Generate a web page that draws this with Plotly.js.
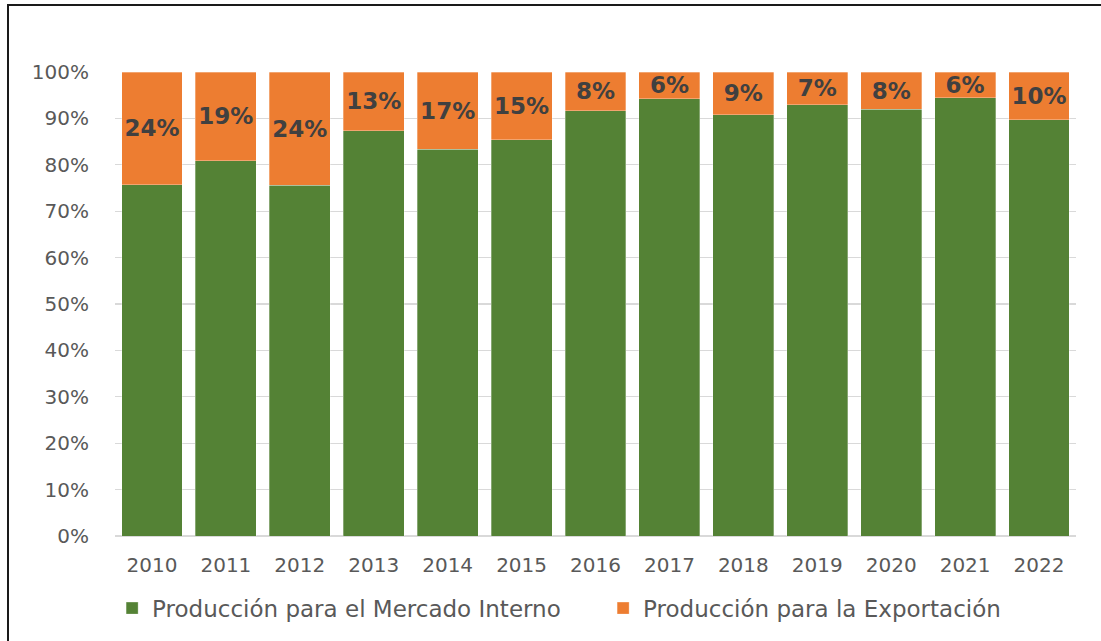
<!DOCTYPE html>
<html>
<head>
<meta charset="utf-8">
<script src="https://cdn.plot.ly/plotly-3.0.1.min.js"></script>
<style>
  html, body { margin: 0; padding: 0; background: #fff; }
  #wrap { position: relative; width: 1101px; height: 641px; overflow: hidden; }
  #chart { position: absolute; left: 0; top: 0; width: 1101px; height: 641px; }
  #frame { position: absolute; left: 7px; top: 4px; width: 1200px; height: 800px;
           border-left: 2px solid #1a1a1a; border-top: 2px solid #1a1a1a; pointer-events: none; }
</style>
</head>
<body>
<div id="wrap">
  <div id="chart"></div>
  <div id="frame"></div>
</div>
<script>
const years = ['2010','2011','2012','2013','2014','2015','2016','2017','2018','2019','2020','2021','2022'];
const domestic = [75.7, 80.9, 75.6, 87.3, 83.4, 85.4, 91.6, 94.2, 90.8, 92.9, 92.0, 94.4, 89.7];
const exportShare = [24.3, 19.1, 24.4, 12.7, 16.6, 14.6, 8.4, 5.8, 9.2, 7.1, 8.0, 5.6, 10.3];
const seriesNames = ['Producción para el Mercado Interno', 'Producción para la Exportación'];

const FONT = 'DejaVu Sans, Verdana, sans-serif';

const traces = [
  {
    type: 'bar', name: seriesNames[0], x: years, y: domestic,
    marker: { color: '#548235', line: { color: 'rgba(255,255,255,0.5)', width: 0.6 } },
    hoverinfo: 'skip'
  },
  {
    type: 'bar', name: seriesNames[1], x: years, y: exportShare,
    marker: { color: '#ED7D31', line: { color: 'rgba(255,255,255,0.5)', width: 0.6 } },
    texttemplate: '%{y:.0f}%', textposition: 'inside', insidetextanchor: 'middle',
    textangle: 0, constraintext: 'none',
    textfont: { family: FONT, size: 23, color: '#404040', weight: 'bold' },
    hoverinfo: 'skip'
  }
];

const layout = {
  width: 1101, height: 641,
  margin: { l: 115, r: 25, t: 72, b: 104 },
  paper_bgcolor: '#ffffff', plot_bgcolor: '#ffffff',
  barmode: 'stack', bargap: 0.176,
  showlegend: true,
  font: { family: FONT, color: '#595959', size: 20 },
  xaxis: {
    type: 'category', showgrid: false, zeroline: false, showline: false,
    ticks: 'outside', ticklen: 11, tickcolor: 'rgba(0,0,0,0)',
    tickfont: { family: FONT, size: 20, color: '#595959' }
  },
  yaxis: {
    range: [0, 100], dtick: 10, ticksuffix: '%',
    showgrid: true, gridcolor: '#D9D9D9', gridwidth: 1.2,
    zeroline: true, zerolinecolor: '#D9D9D9', zerolinewidth: 1.2,
    showline: false, ticks: 'outside', ticklen: 21, tickcolor: 'rgba(0,0,0,0)',
    tickfont: { family: FONT, size: 20, color: '#595959' }
  },
  legend: {
    orientation: 'h', x: -0.003, xanchor: 'left', y: -0.153, yanchor: 'middle',
    font: { family: FONT, size: 23, color: '#595959' },
    traceorder: 'normal', entrywidth: 446, entrywidthmode: 'pixels',
    bgcolor: 'rgba(0,0,0,0)'
  }
};

Plotly.newPlot('chart', traces, layout, { displayModeBar: false, staticPlot: true });
</script>
</body>
</html>
